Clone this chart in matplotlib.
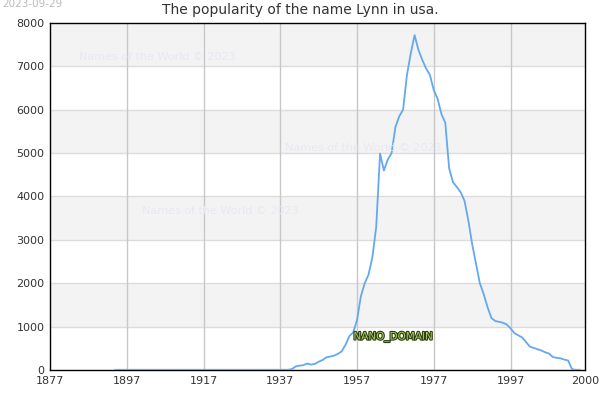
import matplotlib
matplotlib.use("Agg")
import matplotlib.pyplot as plt
import matplotlib.patheffects as pe

years = list(range(1894, 2016))
zeros_early = [5] * (1940 - 1894)
values_late = [
    20, 80, 100, 110, 150, 125, 140, 190, 230, 290,      # 1940-1949
    310, 330, 370, 430, 580, 780, 870, 1150, 1700, 2000,  # 1950-1959
    2200, 2600, 3300, 4990, 4600, 4850, 5000, 5600, 5850, 6000,  # 1960-1969
    6800, 7300, 7720, 7380, 7150, 6950, 6800, 6450, 6250, 5900,  # 1970-1979
    5700, 4650, 4330, 4220, 4100, 3900, 3450, 2900, 2450, 2000,  # 1980-1989
    1750, 1450, 1200, 1130, 1110, 1090, 1050, 960, 850, 800,     # 1990-1999
    750, 650, 540, 510, 480, 450, 410, 380, 300, 280,            # 2000-2009
    270, 240, 220, 20, 5, 5,                                      # 2010-2015
]
values = zeros_early + values_late

x_ticks = [1877, 1897, 1917, 1937, 1957, 1977, 1997, 2016.4]
x_tick_labels = ["1877", "1897", "1917", "1937", "1957", "1977", "1997", "2000"]
y_ticks = [0, 1000, 2000, 3000, 4000, 5000, 6000, 7000, 8000]

title = "The popularity of the name Lynn in usa."
date_text = "2023-09-29"
watermark = "Names of the World © 2023"

fig = plt.figure(figsize=(6, 4), dpi=100)
ax = fig.add_axes([50/600, 1-370/400, 535/600, 347/400])
ax.set_xlim(1877, 2016.4)
ax.set_ylim(0, 8000)

# alternating bands
for i in range(0, 8):
    if i % 2 == 1:
        ax.axhspan(i*1000, (i+1)*1000, color="#f3f3f3", zorder=0, lw=0)
for yv in y_ticks[1:-1]:
    ax.axhline(yv, color="#dcdcdc", lw=1, zorder=1)
for xv in x_ticks[1:-1]:
    ax.axvline(xv, color="#c8c8c8", lw=1, zorder=1)

ax.plot(years, values, color="#64a8f0", lw=1.3, zorder=3)

ax.set_xticks(x_ticks)
ax.set_xticklabels(x_tick_labels)
ax.set_yticks(y_ticks)
ax.tick_params(length=0, labelsize=8, labelcolor="#333333", pad=4)
for s in ax.spines.values():
    s.set_color("black")
    s.set_linewidth(1)

fig.text(300/600, 1-10/400, title, ha="center", va="center", fontsize=10, color="#333333")
fig.text(2/600, 1-4/400, date_text, ha="left", va="center", fontsize=7.5, color="#bbbbbb")

wm_color = "#e8e8f3"
for (px, py) in [(157, 57), (363, 148), (220, 211)]:
    fig.text(px/600, 1-py/400, watermark, ha="center", va="center", fontsize=8, color=wm_color, zorder=2)

t = fig.text(393/600, 1-337/400, "NANO_DOMAIN", ha="center", va="center", fontsize=7.5,
             color="#a8c860", zorder=5)
t.set_path_effects([pe.withStroke(linewidth=1.6, foreground="#2a4010")])

fig.savefig("out.png", dpi=100)
